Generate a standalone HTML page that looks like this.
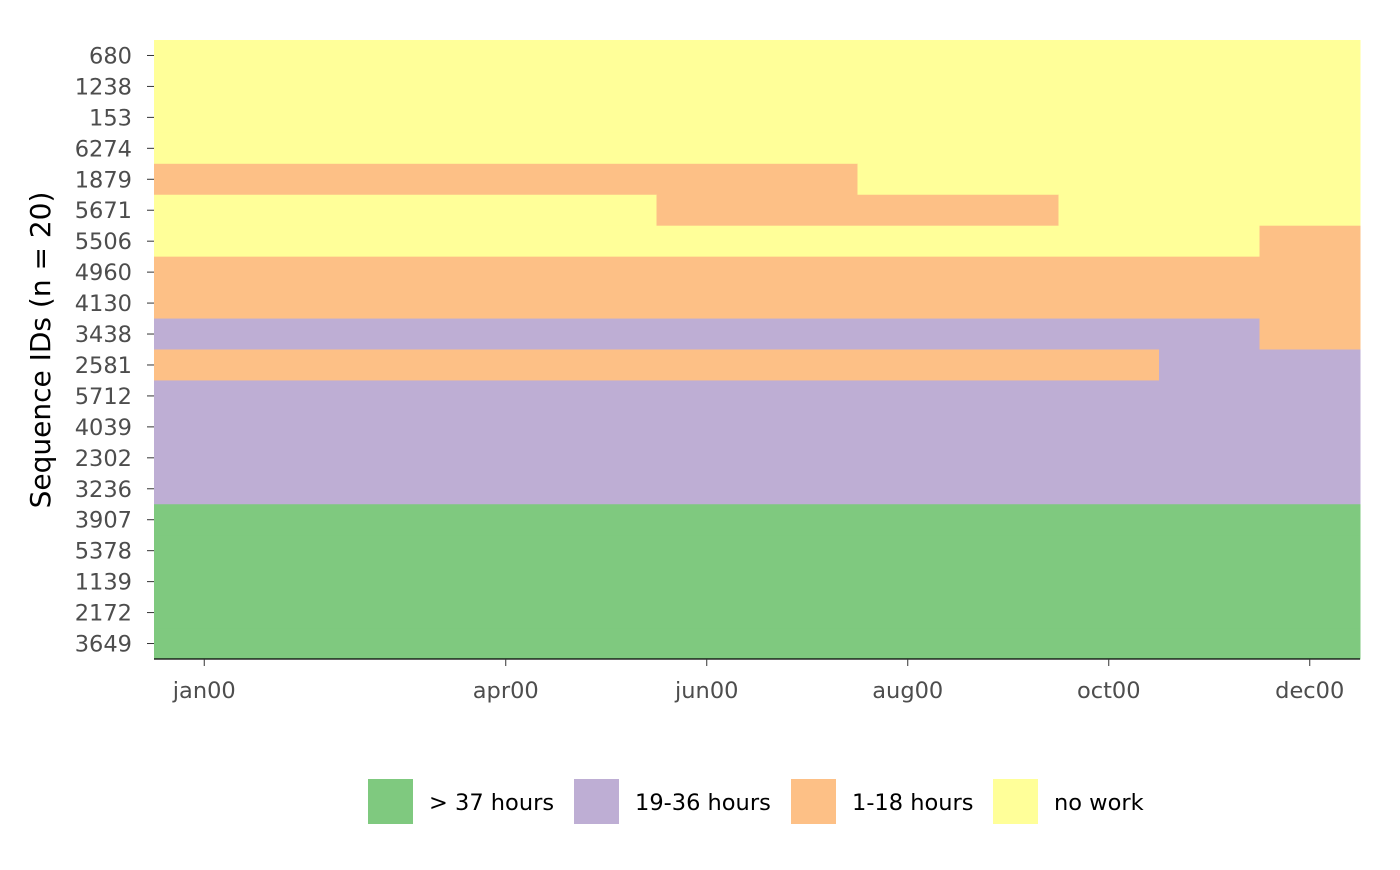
<!DOCTYPE html>
<html><head><meta charset="utf-8"><style>
body{margin:0;background:#fff;font-family:"DejaVu Sans","Liberation Sans",sans-serif}
</style></head><body>
<svg id="chart" width="1400" height="866" xmlns="http://www.w3.org/2000/svg">
<g id="plot"></g>
<g id="axes"></g>
<g id="legend"></g>
</svg>
<script>
const ids=["680","1238","153","6274","1879","5671","5506","4960","4130","3438","2581","5712","4039","2302","3236","3907","5378","1139","2172","3649"];
// state per month (12 months): 1 = >37h, 2 = 19-36h, 3 = 1-18h, 4 = no work
const sequences=[
"444444444444","444444444444","444444444444","444444444444",
"333333344444","444443333444","444444444443","333333333333",
"333333333333","222222222223","333333333322","222222222222",
"222222222222","222222222222","222222222222","111111111111",
"111111111111","111111111111","111111111111","111111111111"];
const monthTicks=[1,4,6,8,10,12];
const monthLabels=["jan00","apr00","jun00","aug00","oct00","dec00"];
const stateLabels=["> 37 hours","19-36 hours","1-18 hours","no work"];
const stateColors=["#7FC97F","#BEAED4","#FDC086","#FFFF99"];

const NS="http://www.w3.org/2000/svg";
const X0=154,X1=1360,Y0=40,Y1=659;
const nM=12,nR=ids.length;
const xs=m=>X0+(m-1)*(X1-X0)/nM;
const ys=r=>Y0+r*(Y1-Y0)/nR;
function mk(t,a,p){const e=document.createElementNS(NS,t);for(const k in a)e.setAttribute(k,a[k]);p.appendChild(e);return e;}
const plot=document.getElementById('plot'),axes=document.getElementById('axes'),legend=document.getElementById('legend');
sequences.forEach((s,r)=>{
  let m=0;
  while(m<nM){let e=m;while(e<nM&&s[e]===s[m])e++;
    const st=+s[m];
    const rc=mk('rect',{x:xs(m+1),y:ys(r),width:xs(e+1)-xs(m+1)+0.5,height:ys(r+1)-ys(r)+0.5,fill:stateColors[st-1]},plot);
    
    
    m=e;}
});
ids.forEach((id,r)=>{
  const y=(ys(r)+ys(r+1))/2;
  mk('line',{x1:147,x2:154,y1:y,y2:y,stroke:'#333','stroke-width':1},axes);
  const t=mk('text',{x:132,y:y+8,'text-anchor':'end','font-size':22.5,fill:'#4d4d4d'},axes);
  t.textContent=id;
  
  
});
mk('line',{x1:X0,x2:X1,y1:Y1,y2:Y1,stroke:'#000','stroke-width':1.2},axes);
monthTicks.forEach((m,i)=>{
  const x=xs(m)+(X1-X0)/nM/2;
  mk('line',{x1:x,x2:x,y1:Y1,y2:Y1+7,stroke:'#333','stroke-width':1},axes);
  const t=mk('text',{x:x,y:698,'text-anchor':'middle','font-size':22.5,fill:'#4d4d4d'},axes);
  t.textContent=monthLabels[i];
  
  
});
const yt=mk('text',{x:0,y:0,transform:'translate(50,350) rotate(-90)','text-anchor':'middle','font-size':28,fill:'#000'},axes);
yt.textContent="Sequence IDs (n = 20)";


const lx=[368,574,791,993];
stateLabels.forEach((l,i)=>{
  const g=mk('g',{},legend);
  
  
  mk('rect',{x:lx[i],y:779,width:45,height:45,fill:stateColors[i]},g);
  const t=mk('text',{x:lx[i]+61,y:810,'font-size':22.5,fill:'#000'},g);
  t.textContent=l;
});
</script>
</body></html>
